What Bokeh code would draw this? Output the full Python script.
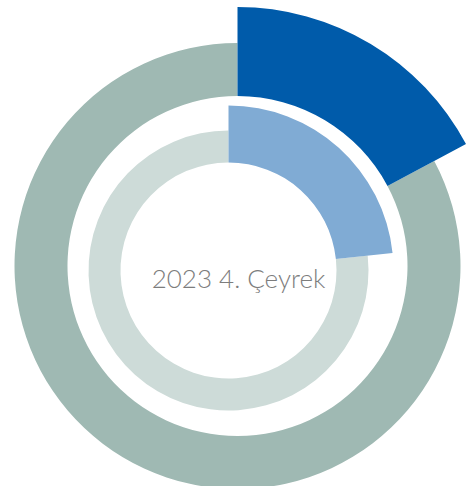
import math
from bokeh.plotting import figure
from bokeh.models import Range1d
from bokeh.core.properties import value
from bokeh.embed import file_html
from bokeh.resources import INLINE

# Data
center_label = "2023 4. Çeyrek"
outer_labels = ["Highlighted", "Rest"]
outer_values = [17.2, 82.8]
inner_labels = ["Highlighted", "Rest"]
inner_values = [23.3, 76.7]

outer_colors = ["#005BAA", "#9FB9B3"]
inner_colors = ["#80ABD4", "#CDDBD8"]

W, H = 466, 486
p = figure(width=W, height=H, output_backend="svg", toolbar_location=None,
           x_range=Range1d(0, W), y_range=Range1d(490 - H, 490),
           min_border=0, outline_line_color=None)
p.axis.visible = False
p.grid.visible = False
p.background_fill_color = "white"
p.border_fill_color = "white"

ocx, ocy = 237, 490 - 265.5
icx, icy = 228, 490 - 270


def ring(cx, cy, values, colors, r_in, r_out, r_out_hi):
    total = sum(values)
    a0 = math.pi / 2
    a1 = a0 - 2 * math.pi * values[0] / total
    p.annular_wedge(x=[cx], y=[cy], inner_radius=r_in, outer_radius=r_out,
                    start_angle=a0 - 2 * math.pi, end_angle=a1, direction="anticlock",
                    fill_color=colors[1], line_color=None)
    p.annular_wedge(x=[cx], y=[cy], inner_radius=r_in, outer_radius=r_out_hi,
                    start_angle=a1, end_angle=a0, direction="anticlock",
                    fill_color=colors[0], line_color=None)


ring(ocx, ocy, outer_values, outer_colors, 170, 223, 259)
ring(icx, icy, inner_values, inner_colors, 108, 140, 165)

p.text(x=[238], y=[490 - 277], text=[center_label], text_align="center",
       text_baseline="alphabetic", text_font=value("Lato Light"),
       text_font_size="26px", text_color="#7D7D7D")

open("out.html", "w").write(file_html(p, INLINE))
